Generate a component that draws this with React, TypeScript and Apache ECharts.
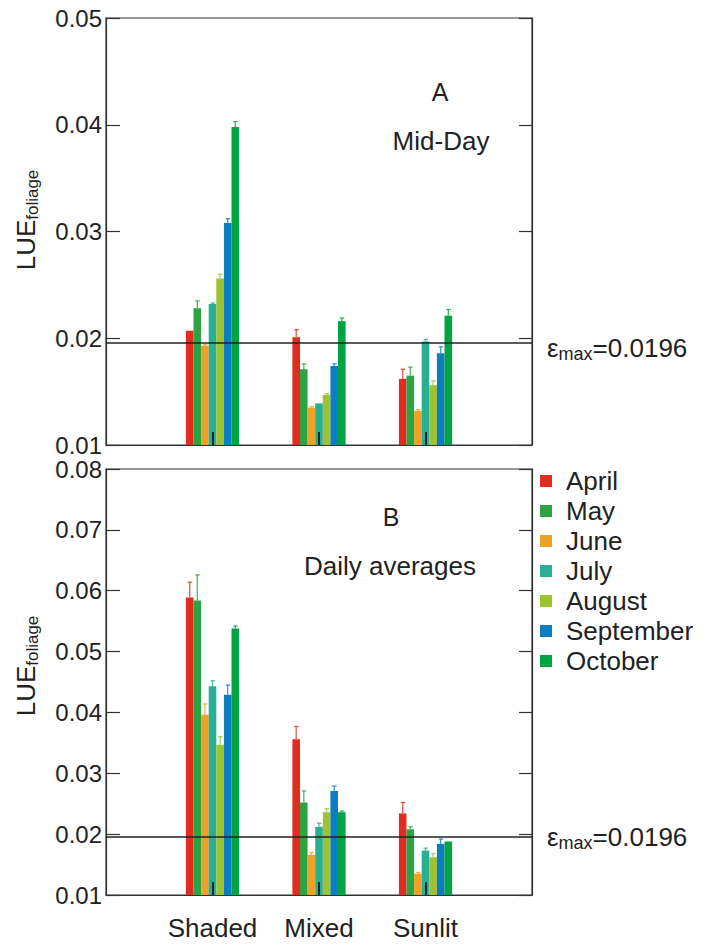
import React, { useEffect, useRef } from "react";
import * as echarts from "echarts";

const CATEGORIES = ["", "Shaded", "Mixed", "Sunlit", ""];
const MONTHS = ["April", "May", "June", "July", "August", "September", "October"];
const COLORS = ["#e02d20", "#2ca443", "#eba226", "#27b093", "#9dc232", "#0b7dc1", "#00a443"];

// Panel A: Mid-Day (per month: Shaded, Mixed, Sunlit)
const midShaded = [0.0207, 0.0228, 0.0193, 0.0232, 0.0256, 0.0308, 0.0398];
const midShadedErr = [0.0, 0.0007, 0.0001, 0.0001, 0.0004, 0.0004, 0.0005];
const midMixed = [0.0201, 0.0171, 0.0135, 0.0139, 0.0147, 0.0174, 0.0216];
const midMixedErr = [0.0007, 0.0005, 0.0001, 0.0, 0.0001, 0.0002, 0.0003];
const midSunlit = [0.0162, 0.0165, 0.0132, 0.0197, 0.0156, 0.0186, 0.0221];
const midSunlitErr = [0.0009, 0.0008, 0.0001, 0.0002, 0.0004, 0.0006, 0.0006];

// Panel B: Daily averages
const dailyShaded = [0.0589, 0.0584, 0.0396, 0.0443, 0.0347, 0.0429, 0.0538];
const dailyShadedErr = [0.0025, 0.0042, 0.0018, 0.0009, 0.0013, 0.0016, 0.0004];
const dailyMixed = [0.0356, 0.0252, 0.0166, 0.0212, 0.0236, 0.0271, 0.0236];
const dailyMixedErr = [0.0021, 0.0019, 0.0004, 0.0006, 0.0006, 0.0008, 0.0002];
const dailySunlit = [0.0234, 0.0208, 0.0135, 0.0173, 0.0162, 0.0184, 0.0188];
const dailySunlitErr = [0.0018, 0.0004, 0.0002, 0.0004, 0.0006, 0.0008, 0.0];

const EPS_MAX = 0.0196;
const TOP_Y = [0.01, 0.05];
const BOTTOM_Y = [0.01, 0.08];
const Y_STEP = 0.01;

const FONT = "'Liberation Sans', Arial, Helvetica, sans-serif";
const BAR_W = 7.6;
const TXT = "#222";

function barSeries(gridIdx: number, groups: number[][]) {
  return MONTHS.map((name, m) => ({
    type: "bar",
    name,
    xAxisIndex: gridIdx,
    yAxisIndex: gridIdx * 2,
    barWidth: BAR_W,
    barGap: "0%",
    itemStyle: { color: COLORS[m] },
    data: ["-", groups[0][m], groups[1][m], groups[2][m], "-"],
    z: 2,
    ...(m === 0
      ? {
          markLine: {
            silent: true,
            symbol: "none",
            precision: 4,
            label: { show: false },
            lineStyle: { color: "#222", type: "solid", width: 1.5 },
            data: [{ yAxis: EPS_MAX }],
            z: 4,
          },
        }
      : {}),
  }));
}

function errSeries(gridIdx: number, groups: number[][], errs: number[][]) {
  const data: number[][] = [];
  for (let g = 0; g < 3; g++) {
    for (let m = 0; m < MONTHS.length; m++) {
      data.push([g + 1, m, groups[g][m], errs[g][m]]);
    }
  }
  return {
    type: "custom",
    xAxisIndex: gridIdx,
    yAxisIndex: gridIdx * 2,
    z: 3,
    silent: true,
    encode: { x: 0, y: 2 },
    data,
    renderItem: (params: any, api: any) => {
      const c = api.value(0);
      const m = api.value(1);
      const v = api.value(2);
      const e = api.value(3);
      if (!e) return { type: "group", children: [] };
      const p0 = api.coord([c, v]);
      const p1 = api.coord([c, v + e]);
      const x = p0[0] + (m - 3) * BAR_W;
      const style = { stroke: COLORS[m], lineWidth: 1.3, opacity: 0.8 };
      return {
        type: "group",
        children: [
          { type: "line", shape: { x1: x, y1: p0[1], x2: x, y2: p1[1] }, style },
          { type: "line", shape: { x1: x - 2, y1: p1[1], x2: x + 2.5, y2: p1[1] }, style },
        ],
      };
    },
  };
}

function xAxis(gridIdx: number, showLabels: boolean) {
  const keep = (i: number) => i >= 1 && i <= 3;
  return {
    type: "category",
    gridIndex: gridIdx,
    data: CATEGORIES,
    boundaryGap: false,
    z: 5,
    axisLine: { lineStyle: { color: "#333", width: 1.2 } },
    axisTick: { show: true, inside: true, length: 13, interval: (i: number) => keep(i), lineStyle: { color: "#223", width: 2 } },
    axisLabel: {
      show: showLabels,
      interval: (i: number) => keep(i),
      fontSize: 26,
      fontFamily: FONT,
      color: TXT,
      margin: 20,
    },
    splitLine: { show: false },
  };
}

function yAxes(gridIdx: number, range: number[]) {
  const common = {
    type: "value",
    gridIndex: gridIdx,
    min: range[0],
    max: range[1],
    interval: Y_STEP,
    splitLine: { show: false },
    axisLine: { show: true, lineStyle: { color: "#333", width: 1.2 } },
  };
  return [
    {
      ...common,
      position: "left",
      axisTick: { show: true, inside: true, length: 14, lineStyle: { color: "#333", width: 1.2 } },
      axisLabel: {
        fontSize: 24,
        fontFamily: FONT,
        color: TXT,
        margin: 4,
        formatter: (v: number) => v.toFixed(2),
      },
    },
    {
      ...common,
      position: "right",
      axisTick: { show: true, inside: true, length: 13, lineStyle: { color: "#333", width: 1.2 } },
      axisLabel: { show: false },
    },
  ];
}

function plainText(text: string, x: number, y: number, size: number) {
  return {
    type: "text",
    x,
    y,
    style: { text, fontSize: size, fontFamily: FONT, fill: TXT, align: "center", verticalAlign: "middle" },
  };
}

function epsText(x: number, y: number) {
  return {
    type: "text",
    x,
    y,
    style: {
      text: "{e|ε}{s|max}{e|=0.0196}",
      fontFamily: FONT,
      fill: TXT,
      align: "left",
      verticalAlign: "middle",
      rich: {
        e: { fontSize: 26, lineHeight: 30, fontFamily: FONT, fill: TXT },
        s: { fontSize: 18, lineHeight: 16, fontFamily: FONT, fill: TXT, verticalAlign: "bottom" },
      },
    },
  };
}

function yName(x: number, y: number) {
  return {
    type: "text",
    x,
    y,
    rotation: Math.PI / 2,
    style: {
      text: "{e|LUE}{s|foliage}",
      fontFamily: FONT,
      fill: TXT,
      align: "center",
      verticalAlign: "middle",
      rich: {
        e: { fontSize: 26, lineHeight: 30, fontFamily: FONT, fill: TXT },
        s: { fontSize: 17, lineHeight: 16, fontFamily: FONT, fill: TXT, verticalAlign: "bottom" },
      },
    },
  };
}

export default function App() {
  const ref = useRef<HTMLDivElement>(null);
  useEffect(() => {
    if (!ref.current) return;
    const chart = echarts.init(ref.current, null, { renderer: "svg" });
    const topGroups = [midShaded, midMixed, midSunlit];
    const topErrs = [midShadedErr, midMixedErr, midSunlitErr];
    const botGroups = [dailyShaded, dailyMixed, dailySunlit];
    const botErrs = [dailyShadedErr, dailyMixedErr, dailySunlitErr];
    chart.setOption({
      animation: false,
      backgroundColor: "#ffffff",
      textStyle: { fontFamily: FONT },
      grid: [
        { left: 106, top: 18, width: 426, height: 427, show: true, borderColor: "#333", borderWidth: 1.2, backgroundColor: "transparent" },
        { left: 106, top: 469, width: 426, height: 426, show: true, borderColor: "#333", borderWidth: 1.2, backgroundColor: "transparent" },
      ],
      xAxis: [xAxis(0, false), xAxis(1, true)],
      yAxis: [...yAxes(0, TOP_Y), ...yAxes(1, BOTTOM_Y)],
      legend: {
        data: MONTHS,
        orient: "vertical",
        left: 540,
        top: 468,
        padding: 0,
        icon: "rect",
        itemWidth: 12,
        itemHeight: 12,
        itemGap: 4,
        selectedMode: false,
        textStyle: { fontSize: 26, lineHeight: 26, fontFamily: FONT, color: TXT, padding: [0, 0, 0, 9] },
      },
      graphic: [
        plainText("A", 440, 92, 25),
        plainText("Mid-Day", 441, 141, 26),
        plainText("B", 391, 517, 25),
        plainText("Daily averages", 390, 566, 26),
        epsText(547, 348),
        epsText(547, 837),
        yName(26, 220),
        yName(26, 666),
      ],
      series: [
        ...barSeries(0, topGroups),
        errSeries(0, topGroups, topErrs),
        ...barSeries(1, botGroups),
        errSeries(1, botGroups, botErrs),
      ],
    });
    return () => chart.dispose();
  }, []);
  return (
    <div
      ref={ref}
      style={{ position: "absolute", left: 0, top: 0, width: 710, height: 946, background: "#fff" }}
    />
  );
}
